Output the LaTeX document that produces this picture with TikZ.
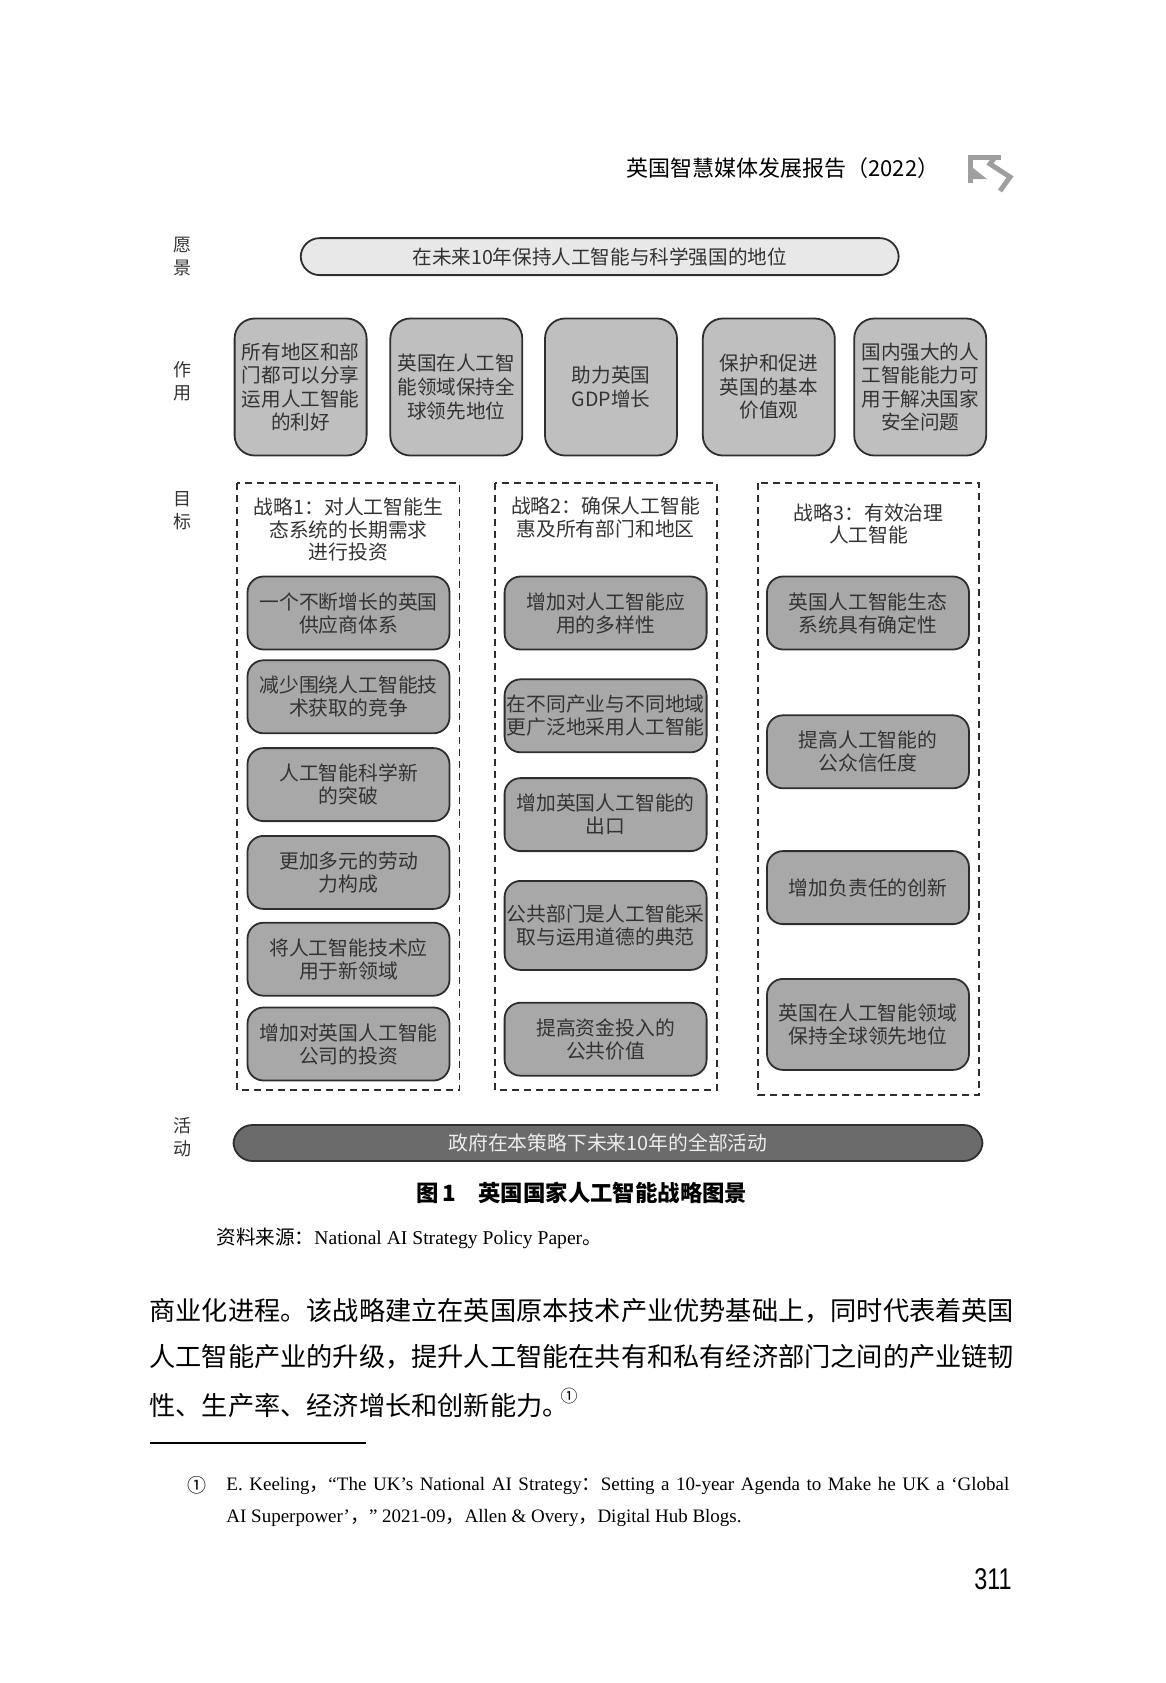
\documentclass[tikz,border=0pt]{standalone}
\usepackage{fontspec}
\setmainfont{Liberation Serif}
\newfontfamily\cjk{Noto Sans CJK SC}
\newfontfamily\headsans{Liberation Sans}
\usetikzlibrary{positioning}
\definecolor{visiongray}{gray}{0.91}
\definecolor{rolegray}{gray}{0.75}
\definecolor{goalgray}{gray}{0.66}
\definecolor{actgray}{gray}{0.42}
\definecolor{edgegray}{gray}{0.18}
\definecolor{inkgray}{gray}{0.2}

\begin{document}
\begin{tikzpicture}[x=0.5pt, y=-0.5pt]
  \tikzstyle{sidelabel} = [align=center, inner sep=0pt, text=inkgray, font=\cjk\fontsize{9}{11.5}\selectfont]
  \tikzstyle{visionbox} = [draw=edgegray, line width=0.9pt, rounded corners=9.5pt, fill=visiongray, minimum width=299pt, minimum height=18.5pt, inner sep=0pt, text=inkgray, font=\cjk\fontsize{9.8}{11}\selectfont]
  \tikzstyle{rolebox} = [draw=edgegray, line width=0.9pt, rounded corners=10pt, fill=rolegray, minimum width=66pt, minimum height=68.5pt, inner sep=0pt, align=center, text=inkgray, font=\cjk\fontsize{9.8}{11.8}\selectfont]
  \tikzstyle{goalbox} = [draw=edgegray, line width=0.9pt, rounded corners=8pt, fill=goalgray, minimum width=101pt, minimum height=36.5pt, inner sep=0pt, align=center, text=inkgray, font=\cjk\fontsize{9.9}{11.5}\selectfont]
  \tikzstyle{stratitle} = [align=center, inner sep=0pt, text=inkgray, font=\cjk\fontsize{9.9}{11.2}\selectfont]
  \tikzstyle{stratframe} = [draw=edgegray, line width=0.8pt, dash pattern=on 3.5pt off 2.5pt]
  \tikzstyle{actbox} = [draw=edgegray, line width=0.9pt, rounded corners=9.5pt, fill=actgray, minimum width=374.5pt, minimum height=18pt, inner sep=0pt, text=white!93!black, font=\cjk\fontsize{9.9}{11}\selectfont]
  \tikzstyle{bodytext} = [inner sep=0pt, font=\cjk\fontsize{13.1}{20}\selectfont]
  \tikzstyle{fntext} = [inner sep=0pt, font=\fontsize{9.5}{15}\selectfont]
  \tikzstyle{headicon} = [draw=gray!75, line width=2.5pt]

  \useasboundingbox (0,0) rectangle (1166,1683);

  % running head
  \node[inner sep=0pt, anchor=west, font=\cjk\fontsize{11}{13}\selectfont] (head) at (626,168) {英国智慧媒体发展报告（2022）};
  \draw[headicon] (1001,157) -- (970,157) -- (970,183);
  \fill[gray!75] (973,168) -- (973,179) -- (987,179) -- cycle;
  \draw[headicon] (995,157) -- (990,164) -- (1010,177) -- (1000,191);

  % row labels
  \node[sidelabel] (lvision) at (182.5,256.5) {愿\\景};
  \node[sidelabel] (lrole) at (182.5,381) {作\\用};
  \node[sidelabel] (lgoal) at (182.5,510.5) {目\\标};
  \node[sidelabel] (lact) at (182.5,1137) {活\\动};

  \node[visionbox] (vision) at (599.7,256.6) {在未来10年保持人工智能与科学强国的地位};

  \node[rolebox] (r1) at (300.6,387) {所有地区和部\\门都可以分享\\运用人工智能\\的利好};
  \node[rolebox] (r2) at (456.3,387) {英国在人工智\\能领域保持全\\球领先地位};
  \node[rolebox] (r3) at (611,387) {助力英国\\GDP增长};
  \node[rolebox] (r4) at (768.8,387) {保护和促进\\英国的基本\\价值观};
  \node[rolebox] (r5) at (920.2,387) {国内强大的人\\工智能能力可\\用于解决国家\\安全问题};

  % strategy columns
  \draw[stratframe] (237,483) rectangle (459.5,1090);
  \draw[stratframe] (495,483) rectangle (717,1090);
  \draw[stratframe] (758,483) rectangle (979,1095);

  \node[stratitle] (s1) at (348.5,529.5) {战略1：对人工智能生\\态系统的长期需求\\进行投资};
  \node[stratitle] (s2) at (605.6,517.5) {战略2：确保人工智能\\惠及所有部门和地区};
  \node[stratitle] (s3) at (868.6,524) {战略3：有效治理\\人工智能};

  \node[goalbox] (g11) at (348.5,613) {一个不断增长的英国\\供应商体系};
  \node[goalbox, below=4.5pt of g11] (g12) {减少围绕人工智能技\\术获取的竞争};
  \node[goalbox, below=6.5pt of g12] (g13) {人工智能科学新\\的突破};
  \node[goalbox, below=6.5pt of g13] (g14) {更加多元的劳动\\力构成};
  \node[goalbox, below=6pt of g14] (g15) {将人工智能技术应\\用于新领域};
  \node[goalbox, below=5pt of g15] (g16) {增加对英国人工智能\\公司的投资};

  \node[goalbox] (g21) at (605.6,613) {增加对人工智能应\\用的多样性};
  \node[goalbox, below=14pt of g21] (g22) {在不同产业与不同地域\\更广泛地采用人工智能};
  \node[goalbox, below=12pt of g22] (g23) {增加英国人工智能的\\出口};
  \node[goalbox, minimum height=44.5pt, below=14pt of g23] (g24) {公共部门是人工智能采\\取与运用道德的典范};
  \node[goalbox, below=15.5pt of g24] (g25) {提高资金投入的\\公共价值};

  \node[goalbox] (g31) at (868,613) {英国人工智能生态\\系统具有确定性};
  \node[goalbox, below=32pt of g31] (g32) {提高人工智能的\\公众信任度};
  \node[goalbox, below=30.5pt of g32] (g33) {增加负责任的创新};
  \node[goalbox, minimum height=45.5pt, below=26.5pt of g33] (g34) {英国在人工智能领域\\保持全球领先地位};

  \node[actbox] (act) at (608,1143) {政府在本策略下未来10年的全部活动};

  % caption and source
  \node[inner sep=0pt, anchor=west, font=\cjk\bfseries\fontsize{11.2}{14}\selectfont] (cap) at (416,1193) {图\,1　英国国家人工智能战略图景};
  \node[inner sep=0pt, anchor=west, font=\fontsize{9.8}{12}\selectfont] (src) at (216,1238) {{\cjk 资料来源：}National AI Strategy Policy Paper{\cjk 。}};

  % body text
  \node[bodytext, anchor=west] (p1) at (149,1311) {商业化进程。该战略建立在英国原本技术产业优势基础上，同时代表着英国};
  \node[bodytext, anchor=west] (p2) at (149,1357) {人工智能产业的升级，提升人工智能在共有和私有经济部门之间的产业链韧};
  \node[bodytext, anchor=west] (p3) at (149,1403) {性、生产率、经济增长和创新能力。\kern-0.3em\raisebox{0.5em}{\fontsize{8.5}{9}\selectfont ①}};

  % footnote
  \draw[line width=0.6pt] (150,1443) -- (366,1443);
  \node[fntext, anchor=west] (fnmark) at (187,1485) {{\cjk ①}};
  \node[fntext, anchor=base west] (fn1) at (226,1490) {\makebox[391.5pt][s]{E. Keeling{\cjk ，}“The UK’s National AI Strategy{\cjk ：}Setting a 10-year Agenda to Make he UK a ‘Global}};
  \node[fntext, anchor=base west] (fn2) at (226,1522) {AI Superpower’{\cjk ，}” 2021-09{\cjk ，}Allen \& Overy{\cjk ，}Digital Hub Blogs.};

  \node[inner sep=0pt, anchor=east, font=\headsans\fontsize{15}{17}\selectfont] (pageno) at (1012,1579) {\scalebox{0.78}[1]{311}};
\end{tikzpicture}
\end{document}
